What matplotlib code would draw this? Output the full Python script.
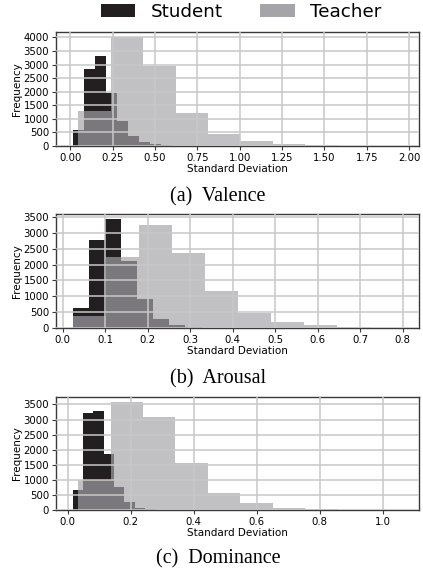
import numpy as np
import matplotlib
matplotlib.use("Agg")
import matplotlib.pyplot as plt
from matplotlib.patches import Patch
from matplotlib.ticker import MultipleLocator

# histogram counts (10 equal bins per series)
panels = ["(a)  Valence", "(b)  Arousal", "(c)  Dominance"]

student_range = [(0.014, 0.668), (0.023, 0.403), (0.015, 0.345)]
teacher_range = [(0.049, 1.960), (0.023, 0.800), (0.033, 1.063)]

student_counts = [
    [580, 2840, 3320, 1960, 925, 370, 136, 62, 20, 6],
    [615, 2758, 3420, 2120, 900, 286, 85, 30, 10, 5],
    [662, 3224, 3290, 1855, 773, 276, 66, 20, 8, 3],
]
teacher_counts = [
    [1284, 4000, 2938, 1210, 432, 173, 62, 25, 12, 5],
    [371, 2227, 3256, 2365, 1167, 488, 180, 85, 30, 15],
    [994, 3570, 3069, 1546, 552, 221, 66, 22, 10, 5],
]

x_steps = [0.25, 0.1, 0.2]

student_color = "#231f20"
teacher_color = "#a4a4a9"

W, H = 423, 574
fig = plt.figure(figsize=(W / 100, H / 100), dpi=100)

# axes boxes in pixels: top, bottom
boxes = [(32, 146), (214, 328), (397, 510)]
caption_y = [197, 379, 559]

for i in range(3):
    top, bot = boxes[i]
    ax = fig.add_axes([56 / W, (H - bot) / H, 363 / W, (bot - top) / H])

    s_edges = np.linspace(*student_range[i], 11)
    t_edges = np.linspace(*teacher_range[i], 11)
    ax.hist(s_edges[:-1], bins=s_edges, weights=student_counts[i],
            color=student_color)
    ax.hist(t_edges[:-1], bins=t_edges, weights=teacher_counts[i],
            color=teacher_color, alpha=0.68)

    ax.set_axisbelow(False)
    ax.grid(True, color="#c8c8c8", linewidth=1.1)
    ax.xaxis.set_major_locator(MultipleLocator(x_steps[i]))
    ax.yaxis.set_major_locator(MultipleLocator(500))
    for sp in ax.spines.values():
        sp.set_color("#3a3a3a")
        sp.set_linewidth(1.0)
    ax.tick_params(labelsize=7.3, length=3, pad=2, color="#3a3a3a")
    ax.set_xlabel("Standard Deviation", fontsize=7.5, labelpad=1)
    ax.set_ylabel("Frequency", fontsize=7.5, labelpad=1)

    fig.text(218 / W, 1 - caption_y[i] / H, panels[i], ha="center", va="center",
             fontsize=14.5, family="Liberation Serif")

handles = [Patch(facecolor=student_color), Patch(facecolor=teacher_color)]
fig.legend(handles, ["Student", "Teacher"], loc="center", ncol=2,
           bbox_to_anchor=(241 / W, 1 - 12 / H), frameon=False, fontsize=13.2,
           handlelength=1.9, handleheight=0.75, columnspacing=2.0,
           handletextpad=0.85, borderaxespad=0)

fig.savefig("out.png", dpi=100)
